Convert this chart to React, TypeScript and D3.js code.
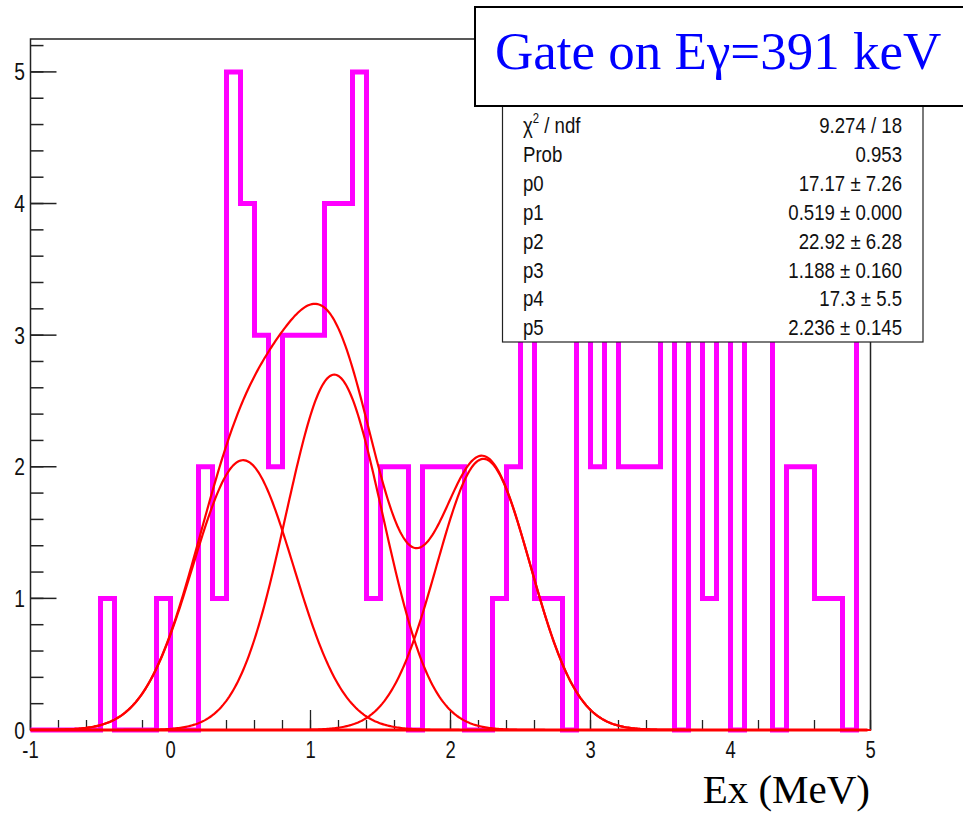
import React from "react";
import * as d3 from "d3";

// ---- Data ----
const binLowEdges = d3.range(60).map((i) => +(-1 + i * 0.1).toFixed(1));
const counts = [
  0, 0, 0, 0, 0, 1, 0, 0, 0, 1,
  0, 0, 2, 1, 5, 4, 3, 2, 3, 3,
  3, 4, 4, 5, 1, 2, 2, 0, 2, 2,
  2, 0, 0, 1, 2, 3, 1, 1, 0, 3,
  2, 3, 2, 2, 2, 3, 0, 3, 1, 3,
  0, 3, 3, 0, 2, 2, 1, 1, 0, 3,
];

const peakHeights = [2.05, 2.7, 2.06];
const peakMeans = [0.519, 1.17, 2.236];
const peakSigmas = [0.36, 0.345, 0.335];

const xMajorTicks = [-1, 0, 1, 2, 3, 4, 5];
const yMajorTicks = [0, 1, 2, 3, 4, 5];
const xMinorTicks = d3.range(-1, 5.0001, 0.2).map((v) => +v.toFixed(1));
const yMinorTicks = d3.range(0, 5.2001, 0.2).map((v) => +v.toFixed(1));

const statLabels = ["χ2 / ndf", "Prob", "p0", "p1", "p2", "p3", "p4", "p5"];
const statValues = [
  "9.274 / 18",
  "0.953",
  "17.17 ± 7.26",
  "0.519 ± 0.000",
  "22.92 ± 6.28",
  "1.188 ± 0.160",
  "17.3 ± 5.5",
  "2.236 ± 0.145",
];

const titleText = "Gate on Eγ=391 keV";
const xAxisTitle = "Ex (MeV)";

export default function App() {
  const W = 963;
  const H = 813;
  const x = d3.scaleLinear().domain([-1, 5]).range([30.5, 870.5]);
  const y = d3.scaleLinear().domain([0, 5.25]).range([730, 39]);

  const histPts: [number, number][] = binLowEdges.map((e, i) => [e, counts[i]]);
  histPts.push([5, counts[counts.length - 1]]);
  const histLine = d3
    .line<[number, number]>()
    .x((d) => x(d[0]))
    .y((d) => y(d[1]))
    .curve(d3.curveStepAfter);

  const gauss = (k: number) => (v: number) =>
    peakHeights[k] * Math.exp(-0.5 * Math.pow((v - peakMeans[k]) / peakSigmas[k], 2));
  const xs = d3.range(-1, 5.0001, 0.01);
  const compFns = [0, 1, 2].map((k) => gauss(k));
  const sumFn = (v: number) => compFns.reduce((s, f) => s + f(v), 0);
  const fnPath = (f: (v: number) => number) =>
    d3
      .line<number>()
      .x((v) => x(v))
      .y((v) => y(f(v)))(xs) || "";

  const sansFont = "'Liberation Sans', Arial, Helvetica, sans-serif";
  const serifFont = "'Liberation Serif', 'Times New Roman', serif";

  const statBaselines = statLabels.map((_, i) => 133 + i * 28.9);

  return (
    <svg
      width={W}
      height={H}
      style={{ position: "absolute", left: 0, top: 0, display: "block", background: "#fff" }}
    >
      <rect x={0} y={0} width={W} height={H} fill="#fff" />
      {/* frame */}
      <rect
        x={x(-1)}
        y={y(5.25)}
        width={x(5) - x(-1)}
        height={y(0) - y(5.25)}
        fill="none"
        stroke="#222"
        strokeWidth={1.5}
      />
      {/* y ticks */}
      {yMinorTicks.map((t) => (
        <line key={"ym" + t} x1={x(-1)} x2={x(-1) + 13} y1={y(t)} y2={y(t)} stroke="#222" strokeWidth={1.5} />
      ))}
      {yMajorTicks.map((t) => (
        <line key={"yM" + t} x1={x(-1)} x2={x(-1) + 26} y1={y(t)} y2={y(t)} stroke="#222" strokeWidth={1.5} />
      ))}
      {/* x ticks */}
      {xMinorTicks.map((t) => (
        <line key={"xm" + t} x1={x(t)} x2={x(t)} y1={y(0)} y2={y(0) - 10} stroke="#222" strokeWidth={1.3} />
      ))}
      {xMajorTicks.map((t) => (
        <line key={"xM" + t} x1={x(t)} x2={x(t)} y1={y(0)} y2={y(0) - 20} stroke="#222" strokeWidth={1.3} />
      ))}
      {/* histogram */}
      <path
        d={histLine(histPts) || ""}
        fill="none"
        stroke="#ff00ff"
        strokeWidth={5}
        strokeLinejoin="miter"
      />
      {/* fit curves */}
      {compFns.map((f, k) => (
        <path key={"c" + k} d={fnPath(f)} fill="none" stroke="#ff0000" strokeWidth={2.2} />
      ))}
      <path d={fnPath(sumFn)} fill="none" stroke="#ff0000" strokeWidth={2.2} />
      <line x1={x(-1)} x2={x(5) - 3} y1={y(0)} y2={y(0)} stroke="#ff0000" strokeWidth={3} />
      {/* y tick labels */}
      {yMajorTicks.map((t) => (
        <text
          key={"yl" + t}
          transform={`translate(25,${y(t) + 8.5}) scale(0.8,1)`}
          textAnchor="end"
          fontFamily={sansFont}
          fontSize={24}
          fill="#111"
        >
          {t}
        </text>
      ))}
      {/* x tick labels */}
      {xMajorTicks.map((t) => (
        <text
          key={"xl" + t}
          transform={`translate(${x(t)},${758}) scale(0.8,1)`}
          textAnchor="middle"
          fontFamily={sansFont}
          fontSize={23}
          fill="#111"
        >
          {t}
        </text>
      ))}
      {/* x axis title */}
      <text x={870} y={803} textAnchor="end" fontFamily={serifFont} fontSize={41} fill="#000">
        {xAxisTitle}
      </text>
      {/* stats box */}
      <rect x={502.5} y={90} width={420.5} height={252} fill="#fff" stroke="#222" strokeWidth={1.2} />
      {statLabels.map((lab, i) => (
        <text
          key={"sl" + i}
          transform={`translate(523,${statBaselines[i]}) scale(0.81,1)`}
          fontFamily={sansFont}
          fontSize={23}
          fill="#111"
        >
          {i === 0 ? (
            <>
              <tspan>χ</tspan>
              <tspan fontSize={14} dy={-10}>2</tspan>
              <tspan dy={10}> / ndf</tspan>
            </>
          ) : (
            lab
          )}
        </text>
      ))}
      {statValues.map((val, i) => (
        <text
          key={"sv" + i}
          transform={`translate(902,${statBaselines[i]}) scale(0.81,1)`}
          textAnchor="end"
          fontFamily={sansFont}
          fontSize={23}
          fill="#111"
        >
          {val}
        </text>
      ))}
      {/* title box */}
      <rect x={475} y={7} width={520} height={99} fill="#fff" stroke="#000" strokeWidth={2} />
      <text x={495} y={69} fontFamily={serifFont} fontSize={53} fill="#0000ff">
        {titleText}
      </text>
    </svg>
  );
}
